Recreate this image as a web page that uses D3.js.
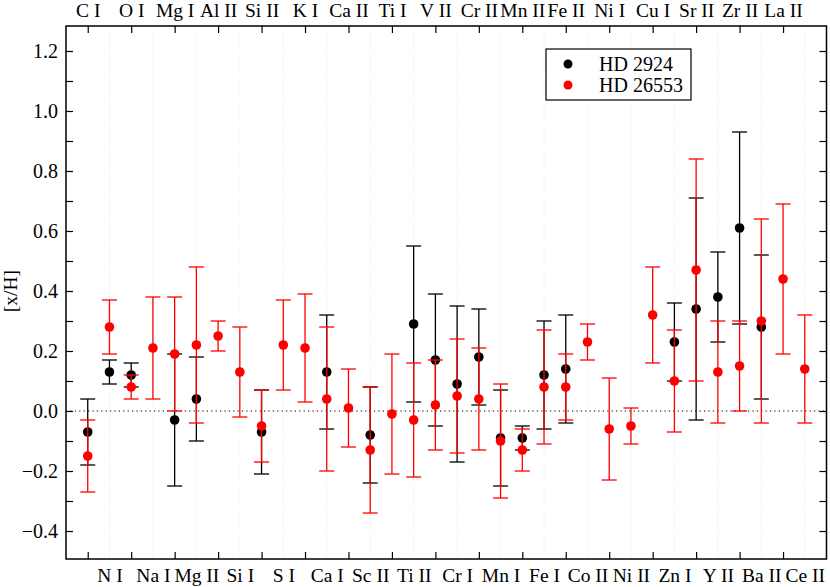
<!DOCTYPE html>
<html><head><meta charset="utf-8">
<script src="https://cdn.jsdelivr.net/npm/d3@7/dist/d3.min.js"></script>
<style>body{margin:0;background:#fff}svg{display:block}</style>
</head><body><svg id="c" width="830" height="587"></svg>
<script>
const categories = ["C I","N I","O I","Na I","Mg I","Mg II","Al II","Si I","Si II","S I","K I","Ca I","Ca II","Sc II","Ti I","Ti II","V II","Cr I","Cr II","Mn I","Mn II","Fe I","Fe II","Co II","Ni I","Ni II","Cu I","Zn I","Sr II","Y II","Zr II","Ba II","La II","Ce II"];
// HD 2924
const hd2924 =    [-0.07,0.13,0.12,null,-0.03,0.04,null,null,-0.07,null,null,0.13,null,-0.08,null,0.29,0.17,0.09,0.18,-0.09,-0.09,0.12,0.14,null,null,null,null,0.23,0.34,0.38,0.61,0.28,null,null];
const hd2924Lo =  [-0.18,0.09,0.08,null,-0.25,-0.10,null,null,-0.21,null,null,-0.06,null,-0.24,null,0.03,-0.05,-0.17,0.02,-0.25,-0.13,-0.06,-0.04,null,null,null,null,0.10,-0.03,0.23,0.29,0.04,null,null];
const hd2924Hi =  [0.04,0.17,0.16,null,0.19,0.18,null,null,0.07,null,null,0.32,null,0.08,null,0.55,0.39,0.35,0.34,0.07,-0.05,0.30,0.32,null,null,null,null,0.36,0.71,0.53,0.93,0.52,null,null];
// HD 26553
const hd26553 =   [-0.15,0.28,0.08,0.21,0.19,0.22,0.25,0.13,-0.05,0.22,0.21,0.04,0.01,-0.13,-0.01,-0.03,0.02,0.05,0.04,-0.10,-0.13,0.08,0.08,0.23,-0.06,-0.05,0.32,0.10,0.47,0.13,0.15,0.30,0.44,0.14];
const hd26553Lo = [-0.27,0.19,0.04,0.04,0.00,-0.04,0.20,-0.02,-0.17,0.07,0.03,-0.20,-0.12,-0.34,-0.21,-0.22,-0.13,-0.14,-0.13,-0.29,-0.20,-0.11,-0.03,0.17,-0.23,-0.11,0.16,-0.07,0.10,-0.04,0.00,-0.04,0.19,-0.04];
const hd26553Hi = [-0.03,0.37,0.12,0.38,0.38,0.48,0.30,0.28,0.07,0.37,0.39,0.28,0.14,0.08,0.19,0.16,0.17,0.24,0.21,0.09,-0.06,0.27,0.19,0.29,0.11,0.01,0.48,0.27,0.84,0.30,0.30,0.64,0.69,0.32];
const yTickLabels = [-0.4,-0.2,0.0,0.2,0.4,0.6,0.8,1.0,1.2];
const seriesNames = ["HD 2924","HD 26553"];
const seriesColors = ["#000000","#ff0000"];

const FONT = "'Liberation Serif'";
const svg = d3.select("#c");
const L=66, R=826.5, T=26, B=559;
const x = d3.scaleLinear().domain([0, categories.length+1]).range([L, R]);
const y = d3.scaleLinear().domain([-0.4933, 1.2833]).range([B, T]);

// grid (dotted light verticals at every second category)
const gridIdx = categories.map((c,i)=>i).filter(i=>i%2===1);
svg.append("g").selectAll("line").data(gridIdx).join("line")
  .attr("x1",i=>x(i+1)).attr("x2",i=>x(i+1)).attr("y1",T).attr("y2",B)
  .attr("stroke","#e0e0e0").attr("stroke-width",0.8).attr("stroke-dasharray","1,2");

// zero line
svg.append("line").attr("x1",L).attr("x2",R).attr("y1",y(0)).attr("y2",y(0))
  .attr("stroke","#000").attr("stroke-width",1.2).attr("stroke-dasharray","1.2,3.2");

// axes
const minorTicks = d3.range(-4,13).map(v=>v/10);
const axL = d3.axisLeft(y).tickValues(minorTicks).tickSize(-7).tickPadding(10)
  .tickFormat(v=> yTickLabels.some(t=>Math.abs(t-v)<1e-6) ? d3.format(".1f")(v) : "");
const gL = svg.append("g").attr("transform",`translate(${L},0)`).call(axL);
const axR = d3.axisRight(y).tickValues(minorTicks).tickSize(-7).tickFormat("");
const gR = svg.append("g").attr("transform",`translate(${R},0)`).call(axR);
const tickIdx = categories.map((c,i)=>i).filter(i=>i%2===0);
const axT = d3.axisTop(x).tickValues(tickIdx.map(i=>i+1)).tickSize(-7).tickPadding(10)
  .tickFormat(v=>categories[v-1]);
const gT = svg.append("g").attr("transform",`translate(0,${T})`).call(axT);
const axB = d3.axisBottom(x).tickValues(tickIdx.map(i=>i+1)).tickSize(-7).tickFormat("");
const gB = svg.append("g").attr("transform",`translate(0,${B})`).call(axB);
const gBl = svg.append("g").attr("transform",`translate(0,${B})`).call(
  d3.axisBottom(x).tickValues(gridIdx.map(i=>i+1)).tickSize(0).tickPadding(9).tickFormat(v=>categories[v-1]));
[gL,gR,gT,gB,gBl].forEach(g=>{
  g.attr("font-family",null).attr("font-size",null);
  g.select(".domain").remove();
  g.selectAll(".tick line").attr("stroke","#000").attr("stroke-width",1.2);
});
gL.selectAll(".tick text").style("font-family",FONT).style("font-size","20px").attr("x",-8).attr("dy","0.34em");
gT.selectAll(".tick text").style("font-family",FONT).style("font-size","19.5px").attr("y",-9);
gBl.selectAll(".tick text").style("font-family",FONT).style("font-size","19.5px").attr("dy","0.71em").attr("y",9);

// frame
svg.append("rect").attr("x",L).attr("y",T).attr("width",R-L).attr("height",B-T)
  .attr("fill","none").attr("stroke","#000").attr("stroke-width",1.5);

// y label
svg.append("text").attr("transform",`translate(17,291) rotate(-90)`).attr("text-anchor","middle")
  .style("font-family",FONT).style("font-size","19.5px").text("[x/H]");

// series
const series = [
  {v:hd2924, lo:hd2924Lo, hi:hd2924Hi, color:seriesColors[0]},
  {v:hd26553, lo:hd26553Lo, hi:hd26553Hi, color:seriesColors[1]}
];
const cap = 7.5;
series.forEach(s=>{
  const pts = s.v.map((v,i)=>({i,v,lo:s.lo[i],hi:s.hi[i]})).filter(d=>d.v!==null);
  const g = svg.append("g").attr("stroke",s.color).attr("stroke-width",1.3);
  g.selectAll(".bar").data(pts).join("line").attr("x1",d=>x(d.i+1)).attr("x2",d=>x(d.i+1))
    .attr("y1",d=>y(d.lo)).attr("y2",d=>y(d.hi));
  g.selectAll(".cl").data(pts).join("line").attr("x1",d=>x(d.i+1)-cap).attr("x2",d=>x(d.i+1)+cap)
    .attr("y1",d=>y(d.lo)).attr("y2",d=>y(d.lo));
  g.selectAll(".ch").data(pts).join("line").attr("x1",d=>x(d.i+1)-cap).attr("x2",d=>x(d.i+1)+cap)
    .attr("y1",d=>y(d.hi)).attr("y2",d=>y(d.hi));
  svg.append("g").selectAll("circle").data(pts).join("circle")
    .attr("cx",d=>x(d.i+1)).attr("cy",d=>y(d.v)).attr("r",4.8).attr("fill",s.color);
});

// legend
const lg = svg.append("g");
lg.append("rect").attr("x",546).attr("y",49).attr("width",145).attr("height",51)
  .attr("fill","#fff").attr("stroke","#000").attr("stroke-width",1.2);
seriesNames.forEach((n,k)=>{
  const yy = 64 + k*21;
  lg.append("circle").attr("cx",568).attr("cy",yy).attr("r",4.5).attr("fill",seriesColors[k]);
  lg.append("text").attr("x",599).attr("y",yy).attr("dy","0.35em")
    .style("font-family",FONT).style("font-size","20px").text(n);
});
</script></body></html>
